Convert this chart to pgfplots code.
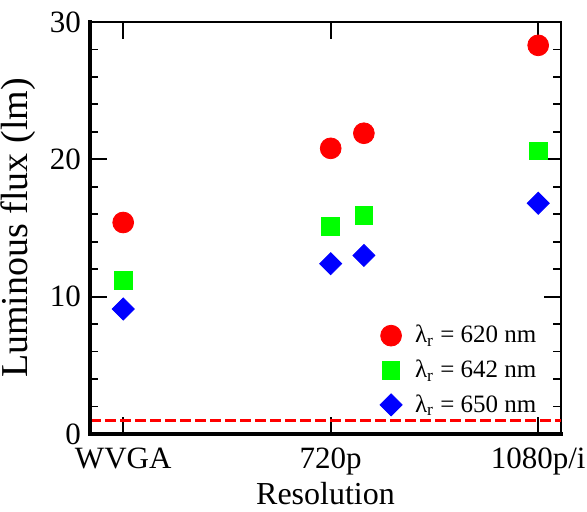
\documentclass[border=0pt]{standalone}
\usepackage{fontspec}
\setmainfont{Liberation Serif}
\usepackage{pgfplots}
\pgfplotsset{compat=1.18}

\definecolor{gRed}{RGB}{255,0,0}
\definecolor{gGreen}{RGB}{0,255,0}
\definecolor{gBlue}{RGB}{0,0,255}

\begin{document}
\begin{tikzpicture}
\begin{axis}[
    name=ax,
    scale only axis,
    width=235.5pt, height=206pt,
    xmin=-0.16, xmax=2.11,
    ymin=0, ymax=30,
    xtick={0,1,2},
    xticklabels={WVGA,720p,1080p/i},
    ytick={0,10,20,30},
    minor y tick num=4,
    major tick length=8.5pt,
    minor tick length=4pt,
    every tick/.style={black, line width=0.9pt},
    axis line style={line width=1pt},
    tick label style={font=\fontsize{15.5}{17}\selectfont},
    /pgf/number format/assume math mode=true,
    xticklabel style={yshift=-3.5pt},
    yticklabel style={xshift=-1pt},
    xlabel={Resolution},
    ylabel={Luminous flux (lm)},
    xlabel style={font=\fontsize{16}{18}\selectfont,
        at={(axis description cs:0.5,-0.1)}, anchor=north},
    ylabel style={font=\fontsize{19}{21}\selectfont,
        at={(axis description cs:-0.1,0.5)}, anchor=south},
    legend cell align=left,
    legend style={
        at={(axis description cs:0.957,0.035)}, anchor=south east,
        draw=none, fill=none, font=\fontsize{12.5}{14}\selectfont,
        row sep=3pt, inner sep=0pt,
        /tikz/every odd column/.append style={column sep=4.5pt}
    },
]

% Reference level
\addplot[gRed, line width=1.5pt, dash pattern=on 5.5pt off 2pt, forget plot]
    coordinates {(-0.16,1) (2.11,1)};

% lambda_r = 620 nm
\addplot[only marks, mark=*, mark size=5.2pt, gRed,
    mark options={fill=gRed, draw=gRed}]
    coordinates {(0,15.4) (1,20.8) (1.16,21.9) (2,28.3)};
\addlegendentry{λ\textsubscript{r} = 620 nm}

% lambda_r = 642 nm
\addplot[only marks, mark=square*, mark size=4.4pt, gGreen,
    mark options={fill=gGreen, draw=gGreen}]
    coordinates {(0,11.2) (1,15.1) (1.16,15.9) (2,20.6)};
\addlegendentry{λ\textsubscript{r} = 642 nm}

% lambda_r = 650 nm
\addplot[only marks, mark=square*, mark size=3.9pt, gBlue,
    mark options={fill=gBlue, draw=gBlue, rotate=45}]
    coordinates {(0,9.1) (1,12.4) (1.16,13.0) (2,16.8)};
\addlegendentry{λ\textsubscript{r} = 650 nm}

\end{axis}
% heavier left and bottom spines
\draw[line width=2pt, line cap=rect] (ax.north west) -- (ax.south west) -- (ax.south east);
\pgfresetboundingbox
\path[use as bounding box] ([xshift=-45pt, yshift=-39pt]ax.south west)
    rectangle ([xshift=13pt, yshift=11pt]ax.north east);
\end{tikzpicture}
\end{document}
